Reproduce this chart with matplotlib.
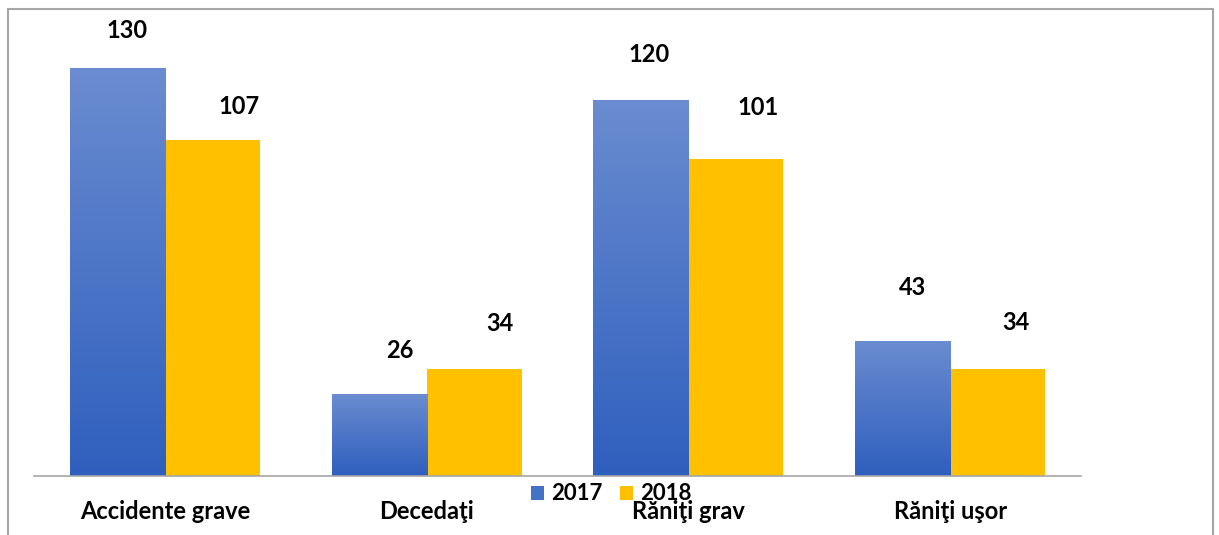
import matplotlib
matplotlib.use("Agg")
import matplotlib.pyplot as plt
import numpy as np
from matplotlib.colors import LinearSegmentedColormap
from matplotlib.patches import Rectangle, Patch

categories = ["Accidente grave", "Decedaţi", "Răniţi grav", "Răniţi uşor"]
series_names = ["2017", "2018"]
values_2017 = [130, 26, 120, 43]
values_2018 = [107, 34, 101, 34]

# label placement (pixel offsets from bar top-centre), as in the reference
label_dx_2017 = [10, 21, 8, 10]
label_dy_2017 = [38, 44, 45, 54]
label_dx_2018 = [27, 26, 22, 18]
label_dy_2018 = [34, 46, 52, 47]

plt.rcParams['font.family'] = ['Lato', 'DejaVu Sans']

W, H = 1219, 535
fig = plt.figure(figsize=(W / 100, H / 100), dpi=100)
fig.patch.set_facecolor('white')

# outer frame
fig.patches.append(Rectangle((8 / W, -0.05), (1213 - 8) / W, (535 - 9) / H + 0.05,
                             transform=fig.transFigure, fill=False,
                             edgecolor='#a6a6a6', linewidth=1.5, zorder=0))

ax = fig.add_axes([34 / W, 59 / H, (1081 - 34) / W, 439 / H])
ax.set_facecolor('none')
x = np.arange(len(categories))
bw = 0.363

bars17 = ax.bar(x - bw / 2, values_2017, bw, color='#4472C4', zorder=2)
bars18 = ax.bar(x + bw / 2, values_2018, bw, color='#FFC000', zorder=2)

# gradient for 2017 bars
cmap = LinearSegmentedColormap.from_list('bl', ['#2f5fbe', '#6a8cd0'])
grad = np.linspace(0, 1, 256).reshape(-1, 1)
for b in bars17:
    b.set_facecolor('none')
    x0, y0 = b.get_x(), b.get_y()
    w, h = b.get_width(), b.get_height()
    im = ax.imshow(grad, cmap=cmap, origin='lower', aspect='auto',
                   extent=[x0, x0 + w, y0, y0 + h], zorder=2)
    im.set_clip_path(b)
ax.set_xlim(-0.5, len(categories) - 0.5)
ax.set_ylim(0, 140)

px2pt = 0.72
for bars, vals, dxs, dys in ((bars17, values_2017, label_dx_2017, label_dy_2017),
                             (bars18, values_2018, label_dx_2018, label_dy_2018)):
    for b, v, dx, dy in zip(bars, vals, dxs, dys):
        ax.annotate(str(v), (b.get_x() + b.get_width() / 2, v),
                    xytext=(dx * px2pt, dy * px2pt), textcoords='offset points',
                    ha='center', va='center', fontsize=17, fontweight='bold',
                    color='black')

for s in ['top', 'left', 'right']:
    ax.spines[s].set_visible(False)
ax.spines['bottom'].set_color('#a6a6a6')
ax.spines['bottom'].set_linewidth(1.2)
ax.set_yticks([])
ax.set_xticks(x)
ax.set_xticklabels(categories, fontsize=17, fontweight='bold')
ax.tick_params(axis='x', length=0, pad=17)

handles = [Patch(facecolor='#4472C4'), Patch(facecolor='#FFC000')]
fig.legend(handles, series_names, loc='center', bbox_to_anchor=(611 / W, 1 - 494 / H),
           ncol=2, frameon=False, prop={'size': 16, 'weight': 'bold'},
           handlelength=0.6, handleheight=0.6,
           handletextpad=0.3, columnspacing=0.8, borderpad=0)

fig.savefig('out.png', dpi=100, facecolor='white')
